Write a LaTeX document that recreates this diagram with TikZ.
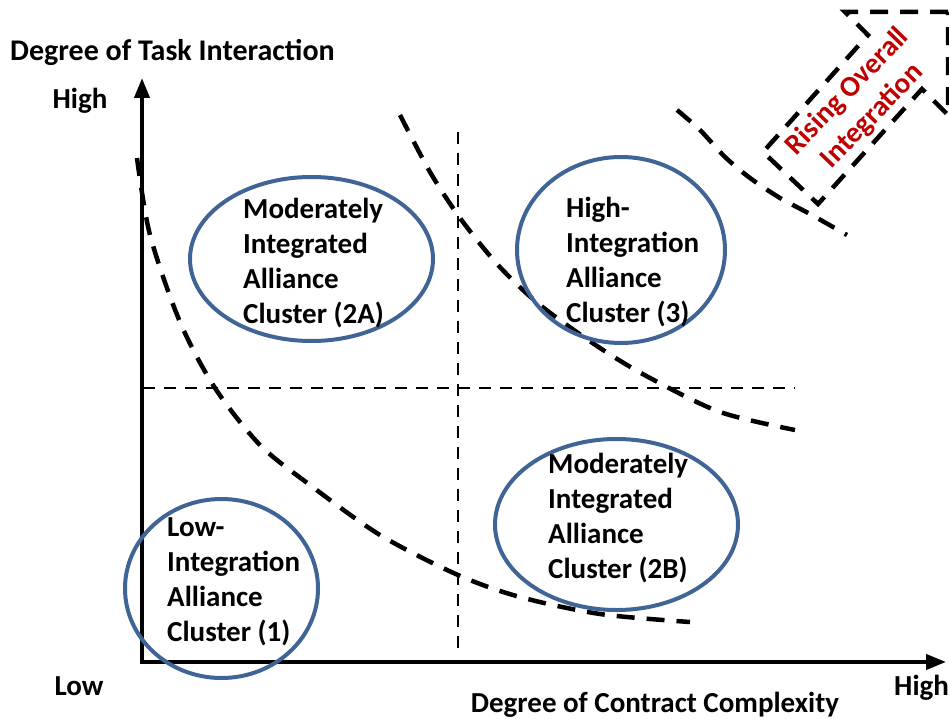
\documentclass[tikz,border=0pt]{standalone}
\usepackage{fontspec}
\setmainfont{Carlito}
\usetikzlibrary{shapes.geometric}
\usetikzlibrary{arrows.meta}

\definecolor{clusterblue}{RGB}{65,100,150}
\definecolor{risered}{RGB}{192,0,0}

\begin{document}
\begin{tikzpicture}[x=1pt,y=-1pt]
\useasboundingbox (0,0) rectangle (949,719);

% Define the styles for axes, dashed lines and clusters
\tikzstyle{axis}=[line width=4pt,line join=miter,{Triangle[length=20pt,width=15pt]}-{Triangle[length=20pt,width=15pt]}]
\tikzstyle{divider}=[line width=2.5pt,dash pattern=on 12pt off 9pt]
\tikzstyle{boundary}=[line width=4.5pt,dash pattern=on 18pt off 12pt]
\tikzstyle{cluster}=[ellipse,draw=clusterblue,line width=4pt,inner sep=0pt]
\tikzstyle{clustertext}=[anchor=west,align=left,inner sep=0pt,font=\bfseries\fontsize{29}{35}\selectfont]
\tikzstyle{axislabel}=[inner sep=0pt,font=\bfseries\fontsize{29}{35}\selectfont]

% define the axes
\coordinate (origin) at (142,662);
\coordinate (ytip) at (142,78);
\coordinate (xtip) at (946,662);
\draw[axis] (ytip) -- (origin) -- (xtip);

\node (yname) [axislabel,anchor=west,font=\bfseries\fontsize{30}{35}\selectfont] at (10,52) {Degree of Task Interaction};
\node (yhigh) [axislabel] at (80,101) {High};
\node (xlow) [axislabel] at (79,686) {Low};
\node (xhigh) [axislabel,anchor=west] at (894,688) {High};
\node (xname) [axislabel] at (655,705) {Degree of Contract Complexity};

% define the quadrant dividers
\coordinate (hleft) at (143,388);
\coordinate (hright) at (795,388);
\coordinate (vtop) at (458,132);
\coordinate (vbottom) at (458,655);
\draw[divider] (hleft) -- (hright);
\draw[divider] (vtop) -- (vbottom);

% define the integration boundaries
\draw[boundary] plot[smooth] coordinates {(137,158) (150,235) (180,322) (215,388) (260,445) (310,485) (380,535) (458,575) (520,597) (600,614) (690,622)};
\draw[boundary] plot[smooth] coordinates {(400,115) (430,172) (460,218) (498,265) (540,305) (600,348) (650,378) (720,412) (795,430)};
\draw[boundary] plot[smooth] coordinates {(677,110) (700,130) (725,157) (750,178) (780,198) (810,214) (847,235)};

% define the clusters
\node (c2a) [cluster,minimum width=243pt,minimum height=164pt] at (311.5,259) {};
\node (c3) [cluster,minimum width=208pt,minimum height=186pt] at (621,250) {};
\node (c2b) [cluster,minimum width=243pt,minimum height=171pt] at (616.5,524.5) {};
\node (c1) [cluster,minimum width=193pt,minimum height=179pt] at (221.5,588.5) {};

\node (c2atext) [clustertext] at (243,263) {Moderately\\Integrated\\Alliance\\Cluster (2A)};
\node (c3text) [clustertext] at (566,262) {High-\\Integration\\Alliance\\Cluster (3)};
\node (c2btext) [clustertext] at (548,518) {Moderately\\Integrated\\Alliance\\Cluster (2B)};
\node (c1text) [clustertext] at (167,582) {Low-\\Integration\\Alliance\\Cluster (1)};

% define the rising arrow
\draw[boundary] (948,12) -- (845,12) -- (868,35) -- (763,152) -- (818,204) -- (922,89) -- (948,115) -- cycle;
\node (rising) [axislabel,align=center,text=risered,rotate=46] at (860,104) {Rising Overall\\Integration};

\end{tikzpicture}
\end{document}
